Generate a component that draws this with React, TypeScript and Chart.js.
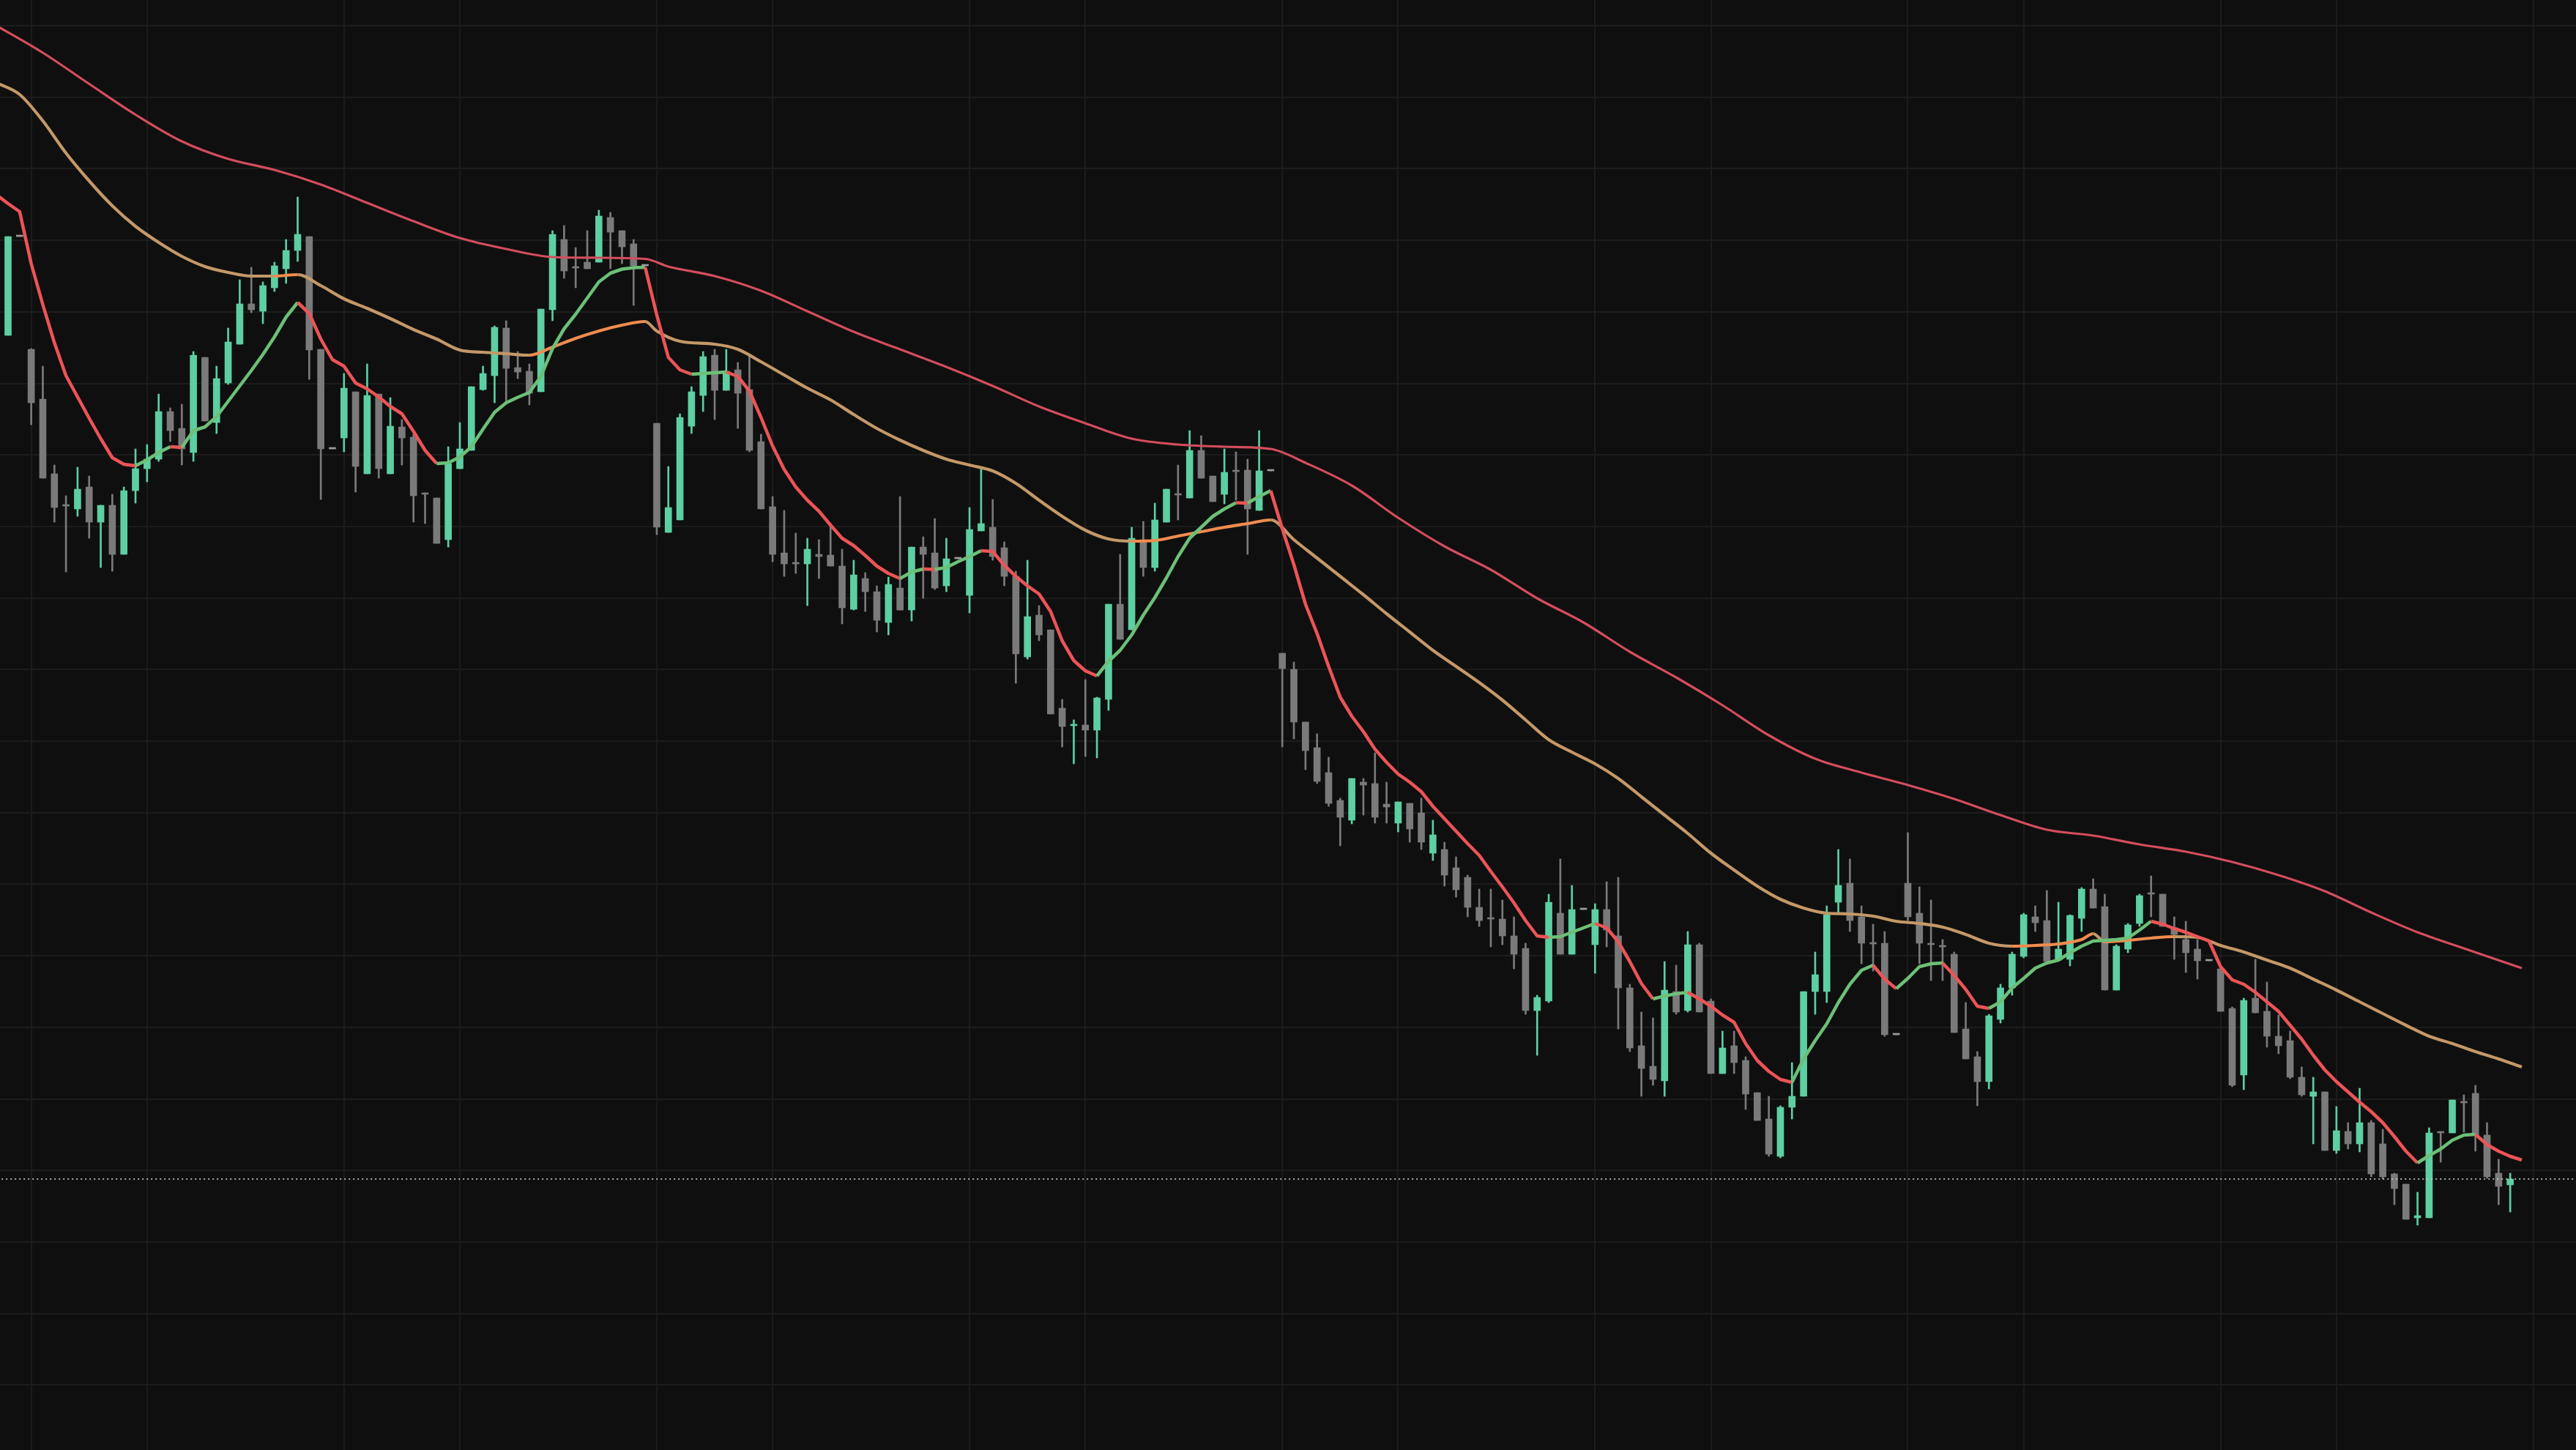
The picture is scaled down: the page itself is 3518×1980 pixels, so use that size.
import React, { useEffect, useRef } from "react";
import { Chart, registerables } from "chart.js";

Chart.register(...registerables);

// ---- candle data (bar index 0..216) ----
const opens = [
  152.2, 165.7, 150.3, 143.5, 133.3, 129.0, 128.5, 131.5, 126.7, 129.0,
  122.3, 131.0, 134.0, 135.3, 141.8, 139.5, 136.2, 149.2, 140.3, 145.7,
  151.0, 156.5, 155.5, 158.7, 161.3, 163.8, 165.7, 150.3, 136.7, 138.2,
  144.5, 133.3, 144.2, 133.3, 139.7, 138.3, 130.6, 130.0, 124.3, 134.0,
  136.5, 144.8, 146.7, 153.2, 147.8, 147.3, 144.5, 155.7, 165.3, 161.6,
  162.2, 162.2, 168.3, 166.5, 164.7, 161.7, 140.2, 125.3, 127.0, 139.8,
  144.0, 149.5, 144.7, 147.5, 144.8, 137.7, 128.8, 122.5, 121.1, 121.0,
  122.3, 122.2, 120.7, 114.8, 119.0, 117.2, 113.0, 117.7, 114.7, 123.3,
  122.5, 118.0, 121.7, 116.7, 125.5, 126.0, 123.2, 119.3, 108.3, 114.0,
  112.0, 101.3, 98.9, 99.0, 98.3, 102.5, 115.5, 112.0, 124.3, 120.5,
  126.7, 130.6, 130.0, 136.5, 133.0, 130.5, 133.8, 133.8, 128.3, 133.7,
  108.8, 106.6, 99.4, 95.9, 92.5, 88.7, 86.0, 91.2, 91.0, 88.2,
  85.6, 88.3, 87.0, 81.5, 82.0, 79.5, 78.2, 74.1, 72.6, 72.5,
  70.2, 68.5, 60.0, 61.3, 73.3, 67.7, 73.8, 69.0, 73.8, 70.2,
  63.1, 55.2, 52.4, 50.4, 62.6, 60.0, 69.0, 61.3, 51.4, 55.2,
  53.2, 48.8, 45.2, 40.1, 46.8, 48.3, 62.6, 62.6, 74.8, 77.4,
  72.8, 69.3, 69.2, 56.7, 77.4, 73.3, 69.1, 68.8, 67.7, 57.5,
  53.7, 50.3, 58.8, 63.1, 67.4, 72.8, 72.3, 66.9, 67.0, 72.6,
  76.6, 74.2, 62.8, 68.4, 71.9, 76.1, 75.9, 71.3, 69.7, 68.4,
  66.8, 65.7, 60.3, 51.2, 61.7, 59.9, 56.5, 55.9, 50.9, 48.3,
  48.9, 40.9, 43.5, 41.8, 44.7, 41.8, 37.7, 36.3, 31.7, 31.7,
  43.5, 43.3, 47.6, 48.7, 43.0, 37.8, 36.2,
];

const highs = [
  165.7, 165.7, 150.4, 148.0, 134.5, 130.3, 134.2, 133.0, 129.0, 130.5,
  131.5, 136.7, 137.3, 144.2, 142.3, 142.8, 150.0, 149.2, 148.0, 153.2,
  159.8, 161.5, 159.5, 162.2, 165.3, 171.1, 165.7, 150.3, 136.7, 147.0,
  144.5, 148.3, 144.2, 143.7, 140.7, 138.7, 130.7, 130.0, 137.0, 140.3,
  145.2, 148.0, 153.5, 154.2, 150.0, 148.3, 155.8, 166.5, 167.2, 164.2,
  166.5, 169.3, 169.0, 166.5, 165.3, 161.7, 140.2, 134.3, 141.5, 145.2,
  150.0, 150.3, 150.3, 148.5, 149.5, 138.7, 130.2, 128.3, 125.2, 124.5,
  124.3, 126.5, 123.0, 121.5, 119.8, 118.0, 119.2, 130.2, 123.3, 124.7,
  127.2, 124.5, 121.7, 128.7, 134.0, 129.8, 124.0, 120.0, 121.5, 115.3,
  112.0, 102.5, 99.7, 105.2, 102.8, 115.5, 122.3, 126.0, 126.8, 129.3,
  131.2, 134.5, 139.2, 138.5, 133.0, 136.7, 136.3, 135.3, 139.2, 133.7,
  108.8, 107.6, 99.4, 97.8, 94.6, 89.0, 91.7, 91.7, 95.2, 91.2,
  88.5, 88.3, 89.0, 86.0, 83.0, 81.0, 78.5, 76.6, 76.6, 75.1,
  72.8, 69.2, 62.1, 75.9, 80.7, 77.1, 73.8, 74.6, 77.6, 78.2,
  63.6, 59.8, 59.0, 66.7, 66.2, 70.8, 69.2, 61.6, 57.2, 57.2,
  53.7, 48.8, 48.3, 47.0, 52.9, 62.6, 68.0, 74.3, 82.0, 80.7,
  74.3, 71.8, 70.8, 56.7, 84.3, 76.9, 75.1, 69.7, 68.0, 61.1,
  54.4, 59.5, 63.6, 68.0, 73.3, 74.3, 76.4, 74.8, 73.1, 76.8,
  78.0, 75.9, 69.0, 71.9, 75.9, 78.4, 75.9, 72.8, 72.2, 69.7,
  66.8, 66.1, 60.5, 61.7, 67.0, 63.9, 59.4, 57.2, 52.3, 50.9,
  48.9, 46.9, 44.7, 49.4, 45.0, 43.8, 37.8, 36.3, 35.2, 44.0,
  43.5, 47.8, 48.5, 49.8, 44.7, 39.7, 37.8,
];

const lows = [
  152.2, 165.7, 140.0, 132.7, 126.7, 119.9, 127.5, 124.5, 120.5, 120.0,
  122.3, 129.3, 132.2, 135.0, 137.7, 134.5, 135.0, 140.5, 138.8, 145.5,
  151.0, 155.3, 153.8, 158.2, 159.3, 162.3, 146.2, 129.8, 136.7, 136.3,
  130.8, 133.3, 132.7, 133.3, 134.5, 126.7, 126.5, 123.8, 123.3, 134.0,
  136.5, 144.7, 143.0, 143.0, 146.3, 142.7, 144.5, 154.2, 160.0, 158.7,
  161.3, 162.2, 161.3, 162.0, 156.3, 161.7, 125.0, 125.3, 127.0, 138.8,
  141.8, 140.7, 144.7, 139.5, 136.3, 128.5, 121.3, 119.3, 119.7, 115.3,
  119.0, 120.7, 112.8, 114.7, 114.5, 111.7, 111.3, 114.7, 113.2, 116.3,
  117.5, 117.2, 121.7, 114.3, 125.5, 121.5, 118.0, 104.7, 108.0, 110.5,
  100.5, 96.0, 93.7, 94.7, 94.5, 101.0, 110.7, 112.0, 119.3, 120.0,
  126.7, 127.0, 130.0, 132.7, 129.5, 129.2, 129.7, 122.3, 128.3, 133.7,
  96.0, 97.1, 92.9, 91.0, 87.9, 82.5, 85.5, 86.7, 85.6, 85.6,
  84.4, 83.0, 82.0, 80.5, 77.0, 75.5, 72.8, 71.5, 68.7, 69.0,
  65.7, 59.5, 53.9, 61.1, 67.7, 67.7, 73.8, 65.1, 68.7, 57.5,
  54.4, 48.3, 49.8, 48.3, 59.5, 59.8, 59.8, 51.4, 51.4, 51.4,
  46.5, 45.0, 40.1, 39.9, 45.2, 48.3, 59.5, 61.1, 73.3, 70.8,
  66.4, 65.4, 56.5, 56.7, 72.3, 66.4, 64.1, 64.1, 57.0, 53.4,
  47.0, 49.3, 58.3, 62.1, 67.2, 70.8, 66.4, 66.8, 66.1, 70.8,
  74.0, 62.8, 62.8, 67.9, 71.5, 72.8, 71.5, 67.0, 65.2, 64.3,
  66.8, 59.9, 49.6, 49.2, 59.7, 55.0, 54.1, 50.7, 48.3, 41.8,
  40.9, 40.5, 41.1, 40.7, 37.3, 37.0, 33.5, 31.5, 30.7, 31.7,
  39.3, 43.3, 43.4, 40.8, 37.1, 33.5, 32.5,
];

const closes = [
  165.7, 165.7, 143.0, 132.7, 128.7, 128.9, 131.2, 126.7, 129.0, 122.3,
  131.0, 134.0, 135.3, 141.8, 139.2, 136.7, 149.5, 140.5, 146.3, 151.3,
  156.5, 155.7, 159.0, 161.7, 163.8, 166.0, 150.2, 136.7, 136.7, 145.0,
  134.3, 144.0, 134.0, 139.8, 138.2, 130.3, 130.5, 123.8, 134.7, 136.7,
  145.2, 147.0, 153.3, 147.7, 147.2, 144.3, 155.8, 166.0, 161.0, 161.4,
  161.3, 168.5, 166.3, 164.3, 161.7, 161.7, 126.0, 128.7, 141.0, 144.5,
  149.3, 144.7, 147.3, 144.3, 136.5, 128.5, 122.3, 121.0, 121.0, 123.0,
  122.0, 120.7, 115.0, 119.5, 117.2, 113.3, 118.2, 114.7, 123.3, 122.3,
  117.7, 121.7, 121.7, 125.7, 126.5, 122.0, 119.3, 108.7, 113.8, 111.3,
  100.5, 98.8, 99.0, 98.3, 102.7, 115.5, 110.7, 124.5, 120.5, 127.0,
  131.2, 130.4, 136.5, 132.7, 129.5, 133.5, 133.6, 128.5, 133.7, 133.7,
  106.7, 99.4, 95.5, 91.3, 88.3, 86.4, 91.7, 90.8, 86.4, 87.8,
  88.5, 84.8, 83.0, 84.0, 78.5, 76.5, 74.1, 72.3, 72.5, 70.2,
  67.7, 60.0, 61.8, 74.8, 67.7, 73.8, 73.8, 73.8, 71.0, 63.1,
  54.9, 52.1, 50.6, 62.8, 59.8, 69.0, 59.8, 51.4, 54.9, 52.9,
  48.6, 45.0, 40.4, 46.8, 48.3, 62.6, 64.9, 73.1, 77.1, 72.3,
  69.2, 69.1, 56.7, 56.7, 72.8, 69.2, 69.0, 68.7, 57.0, 53.4,
  50.3, 59.3, 63.1, 67.7, 73.1, 72.0, 66.7, 68.4, 73.0, 76.6,
  74.0, 62.8, 68.8, 71.7, 75.7, 75.9, 71.5, 70.4, 67.9, 66.8,
  66.8, 59.9, 49.8, 61.4, 59.7, 56.5, 55.2, 50.9, 48.5, 48.9,
  40.9, 43.6, 41.8, 44.7, 37.7, 37.3, 35.7, 31.5, 32.0, 43.3,
  43.3, 47.8, 47.4, 43.0, 37.3, 36.0, 37.0,
];

// ---- moving averages ----
// fast line: one value per bar, starting at bar -1
const fastStartBar = -1;
const fastMA = [
  171.4, 170.2, 169.1, 162.0, 156.4, 151.2, 146.7, 143.8, 140.9, 138.1,
  135.5, 134.6, 134.4, 135.2, 136.2, 137.0, 136.9, 139.2, 139.7, 141.1,
  143.2, 145.3, 147.4, 149.6, 152.0, 154.7, 156.7, 155.2, 151.7, 148.9,
  148.0, 145.7, 144.9, 143.8, 142.5, 141.5, 139.1, 136.5, 134.7, 134.8,
  135.6, 137.0, 139.4, 141.7, 143.0, 143.75, 144.4, 146.6, 150.4, 153.1,
  155.1, 157.3, 159.5, 160.7, 161.25, 161.45, 161.5, 155.0, 149.2, 147.5,
  146.9, 147.0, 147.1, 147.2, 146.6, 144.6, 141.0, 137.1, 133.9, 131.5,
  129.7, 128.2, 126.3, 124.5, 123.5, 122.15, 120.7, 119.7, 119.0, 119.9,
  120.3, 120.25, 120.5, 121.3, 122.0, 122.8, 122.7, 120.8, 119.3, 118.0,
  116.9, 114.5, 110.5, 107.8, 106.4, 105.7, 107.7, 109.2, 111.3, 114.0,
  116.4, 119.1, 122.0, 124.5, 126.0, 127.5, 128.5, 129.35, 129.3, 130.2,
  131.0, 125.8, 120.9, 115.5, 111.5, 107.0, 102.8, 100.2, 98.1, 95.7,
  93.9, 92.3, 91.2, 89.9, 87.9, 86.2, 84.5, 82.8, 81.2, 79.0,
  76.9, 74.7, 72.3, 70.2, 70.0, 70.1, 70.7, 71.3, 71.9, 71.3,
  69.4, 66.7, 63.7, 61.6, 62.0, 62.3, 62.5, 61.6, 60.6, 59.4,
  58.4, 55.5, 53.2, 51.7, 50.6, 50.2, 53.4, 55.9, 58.2, 61.1,
  63.6, 65.5, 66.2, 64.3, 63.0, 64.4, 66.0, 66.4, 66.5, 64.8,
  62.9, 60.6, 60.3, 61.2, 63.1, 64.4, 65.8, 66.5, 66.9, 67.9,
  68.8, 69.5, 69.6, 69.7, 69.9, 71.0, 72.2, 71.8, 71.2, 70.7,
  70.1, 69.5, 66.0, 64.2, 63.6, 62.5, 61.2, 59.9, 58.0, 56.1,
  53.9, 51.9, 50.3, 48.9, 47.5, 46.2, 44.7, 42.8, 40.8, 39.2,
  40.2, 41.1, 42.3, 43.0, 43.1, 41.7, 40.8, 40.1, 39.6,
];

// mid line: [bar, value]
const midMA: [number, number][] = [
  [-1, 186.7], [1, 185.1], [3, 181.5], [5, 177.1], [7, 173.3], [9, 169.9], [11, 167.1],
  [13, 164.9], [15, 163.0], [17, 161.6], [19, 160.8], [21, 160.3], [23, 160.3], [25, 160.5],
  [27, 159.0], [29, 157.2], [31, 155.9], [33, 154.5], [35, 153.0], [37, 151.7], [39, 150.2],
  [41, 149.9], [43, 149.7], [45, 149.5], [47, 150.6], [49, 151.8], [51, 152.8], [53, 153.6],
  [55, 154.1], [56, 152.8], [58, 151.4], [61, 151.0], [63, 150.3], [65, 148.6], [67, 146.8],
  [69, 145.0], [71, 143.4], [73, 141.4], [75, 139.5], [77, 137.9], [79, 136.5], [81, 135.3],
  [83, 134.5], [85, 133.7], [87, 132.0], [89, 129.7], [91, 127.5], [93, 125.6], [95, 124.4],
  [97, 124.1], [99, 124.2], [101, 124.8], [103, 125.4], [105, 126.0], [107, 126.5], [109, 127.0],
  [111, 124.3], [113, 121.8], [115, 119.3], [117, 116.8], [119, 114.2], [121, 111.7], [123, 109.2],
  [125, 107.0], [127, 104.8], [129, 102.4], [131, 99.7], [133, 97.0], [135, 95.3], [137, 93.7],
  [139, 91.7], [141, 89.2], [143, 86.7], [145, 84.2], [147, 81.5], [149, 79.2], [151, 77.0],
  [153, 75.2], [155, 74.0], [157, 73.3], [159, 73.2], [161, 72.9], [163, 72.2], [165, 71.9],
  [167, 71.4], [169, 70.4], [171, 69.2], [173, 68.8], [175, 68.9], [177, 69.1], [179, 69.7],
  [180, 70.5], [181, 69.4], [183, 69.6], [185, 69.9], [187, 70.1], [189, 70.0], [191, 68.9],
  [193, 68.0], [195, 66.9], [197, 65.8], [199, 64.3], [201, 62.8], [203, 61.2], [205, 59.6],
  [207, 58.0], [209, 56.5], [211, 55.5], [213, 54.4], [215, 53.4], [217, 52.3],
];

// slow line: [bar, value]
const slowMA: [number, number][] = [
  [-1, 194.5], [3, 190.8], [7, 186.55], [11, 182.35], [15, 178.7], [19, 176.3], [23, 174.8],
  [27, 172.8], [31, 170.3], [35, 167.8], [39, 165.5], [43, 164.0], [47, 162.9], [51, 162.8],
  [55, 162.65], [57, 161.6], [61, 160.3], [65, 158.3], [69, 155.5], [73, 152.7], [77, 150.3],
  [81, 147.9], [85, 145.3], [89, 142.5], [93, 140.2], [97, 138.1], [101, 137.3], [105, 137.0],
  [109, 136.7], [112, 134.8], [116, 131.7], [120, 127.3], [124, 123.4], [128, 120.2], [132, 116.3],
  [136, 113.0], [140, 109.0], [144, 105.5], [148, 101.7], [152, 97.6], [156, 94.4], [160, 92.5],
  [164, 90.8], [168, 88.9], [172, 86.7], [176, 84.7], [180, 83.9], [184, 82.7], [188, 81.7],
  [192, 80.3], [196, 78.5], [200, 76.3], [204, 73.4], [208, 70.7], [212, 68.5], [217, 65.8],
];

// grid positions
const xGridBars = [2, 12, 29, 39, 56, 66, 83, 93, 110, 120, 137, 147, 164, 174, 191, 201, 218];
const yGridValues = [
  194.5, 184.73, 174.96, 165.19, 155.42, 145.65, 135.88, 126.11, 116.34, 106.57,
  96.8, 87.03, 77.26, 67.49, 57.72, 47.95, 38.18, 28.41, 18.64, 8.87,
];

const X_MIN = -0.6953;
const X_MAX = 221.68;
const Y_MIN = 0;
const Y_MAX = 198;

const BG = "#0f0f0f";
const GRID = "#1c1c1c";
const UP = "#5dcfa2";
const DOWN = "#7a7a7a";
const FLAT = "#9c9c9c";
const FAST_UP = "#6cc077";
const FAST_DOWN = "#ec5456";
const MID_UP = "#f08c4e";
const MID_DOWN = "#c49868";
const SLOW = "#d44d5e";

export default function App() {
  const ref = useRef<HTMLCanvasElement | null>(null);

  useEffect(() => {
    document.body.style.margin = "0";
    document.body.style.background = BG;
    const canvas = ref.current;
    if (!canvas) return;

    const bars = opens.map((_, i) => i);
    const colorFor = (i: number) =>
      closes[i] > opens[i] ? UP : closes[i] < opens[i] ? DOWN : FLAT;
    const colors = bars.map(colorFor);
    const last = closes[closes.length - 1];

    const chart = new Chart(canvas, {
      type: "bar",
      data: {
        datasets: [
          {
            type: "line",
            label: "last",
            data: [
              { x: X_MIN - 1, y: last },
              { x: X_MAX + 1, y: last },
            ],
            borderColor: "rgba(205,205,205,0.8)",
            borderWidth: 2,
            borderDash: [2, 4],
            pointRadius: 0,
            order: 0,
          } as any,
          {
            type: "line",
            label: "fast",
            data: fastMA.map((v, k) => ({ x: k + fastStartBar, y: v })),
            borderWidth: 4.5,
            pointRadius: 0,
            tension: 0,
            borderJoinStyle: "round",
            borderColor: FAST_DOWN,
            segment: {
              borderColor: (ctx: any) =>
                ctx.p1.parsed.y > ctx.p0.parsed.y ? FAST_UP : FAST_DOWN,
            },
            order: 1,
          } as any,
          {
            type: "line",
            label: "mid",
            data: midMA.map(([x, y]) => ({ x, y })),
            borderWidth: 4.2,
            pointRadius: 0,
            cubicInterpolationMode: "monotone",
            borderColor: MID_DOWN,
            segment: {
              borderColor: (ctx: any) =>
                ctx.p1.parsed.y > ctx.p0.parsed.y ? MID_UP : MID_DOWN,
            },
            order: 2,
          } as any,
          {
            type: "line",
            label: "slow",
            data: slowMA.map(([x, y]) => ({ x, y })),
            borderWidth: 3.2,
            pointRadius: 0,
            cubicInterpolationMode: "monotone",
            borderColor: SLOW,
            order: 3,
          } as any,
          {
            type: "bar",
            label: "body",
            data: bars.map((i) => ({ x: i, y: [opens[i], closes[i]] })),
            backgroundColor: colors,
            borderWidth: 0,
            barThickness: 9,
            minBarLength: 2,
            grouped: false,
            order: 5,
          } as any,
          {
            type: "bar",
            label: "wick",
            data: bars.map((i) => ({ x: i, y: [lows[i], highs[i]] })),
            backgroundColor: colors,
            borderWidth: 0,
            barThickness: 2,
            grouped: false,
            order: 6,
          } as any,
        ],
      },
      options: {
        responsive: false,
        devicePixelRatio: 1,
        animation: false,
        events: [],
        layout: { padding: 0 },
        plugins: {
          legend: { display: false },
          tooltip: { enabled: false },
        },
        scales: {
          x: {
            type: "linear",
            min: X_MIN,
            max: X_MAX,
            offset: false,
            grid: { color: GRID, lineWidth: 2, drawTicks: false, offset: false },
            border: { display: false },
            ticks: { display: false },
            afterBuildTicks: (axis: any) => {
              axis.ticks = xGridBars.map((v) => ({ value: v }));
            },
          },
          y: {
            type: "linear",
            min: Y_MIN,
            max: Y_MAX,
            offset: false,
            grid: { color: GRID, lineWidth: 2, drawTicks: false },
            border: { display: false },
            ticks: { display: false },
            afterBuildTicks: (axis: any) => {
              axis.ticks = yGridValues.map((v) => ({ value: v }));
            },
          },
        },
      } as any,
    });

    return () => chart.destroy();
  }, []);

  return (
    <div style={{ width: 3518, height: 1980, background: BG, overflow: "hidden" }}>
      <canvas ref={ref} width={3518} height={1980} style={{ display: "block" }} />
    </div>
  );
}
